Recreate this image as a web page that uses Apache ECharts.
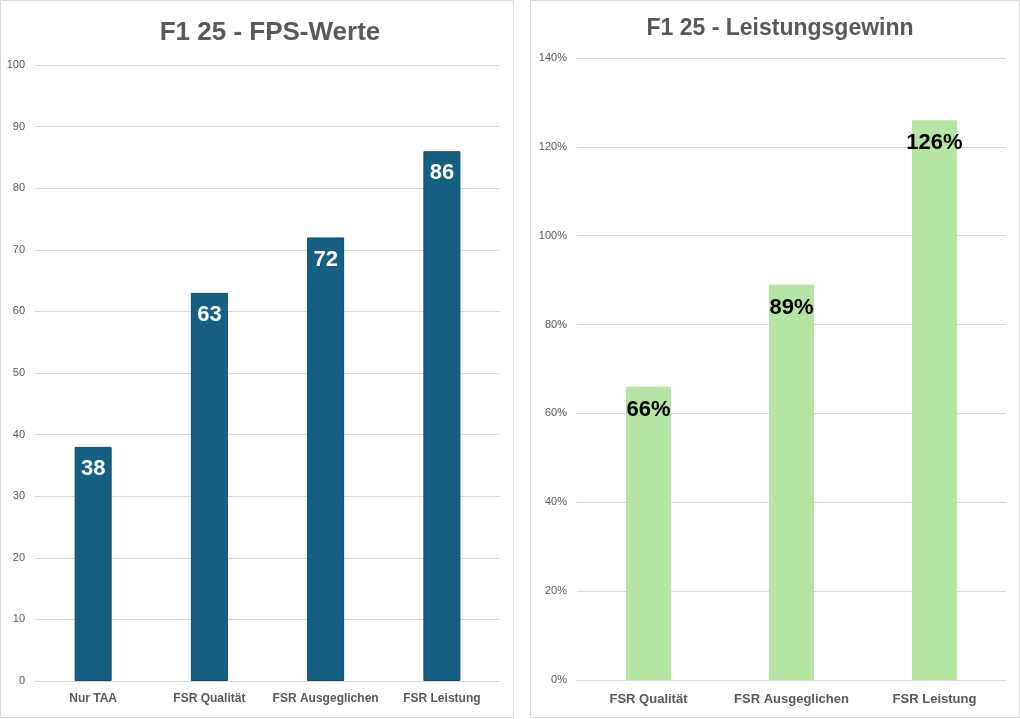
<!DOCTYPE html>
<html>
<head>
<meta charset="utf-8">
<script src="https://cdn.jsdelivr.net/npm/echarts@6/dist/echarts.min.js"></script>
<style>
  html, body { margin: 0; padding: 0; background: #fff; }
  #chart { width: 1020px; height: 719px; }
</style>
</head>
<body>
<div id="chart"></div>
<script>
const fpsCategories = ['Nur TAA', 'FSR Qualität', 'FSR Ausgeglichen', 'FSR Leistung'];
const fpsValues = [38, 63, 72, 86];
const gainCategories = ['FSR Qualität', 'FSR Ausgeglichen', 'FSR Leistung'];
const gainValues = [66, 89, 126];

const font = '"Liberation Sans Narrow", "Liberation Sans", Arial, sans-serif';
const grey = '#595959';

const chart = echarts.init(document.getElementById('chart'));
const option = {
  backgroundColor: '#fff',
  textStyle: { fontFamily: font },
  graphic: [
    { type: 'rect', shape: { x: 0.5, y: 0.5, width: 513, height: 717 }, style: { fill: 'none', stroke: '#d9d9d9', lineWidth: 1 } },
    { type: 'rect', shape: { x: 530.5, y: 0.5, width: 489, height: 717 }, style: { fill: 'none', stroke: '#d9d9d9', lineWidth: 1 } }
  ],
  title: [
    { text: 'F1 25 - FPS-Werte', left: 265, top: 15, textAlign: 'center',
      textStyle: { fontSize: 26, fontWeight: 'bold', color: grey, fontFamily: font } },
    { text: 'F1 25 - Leistungsgewinn', left: 775, top: 12, textAlign: 'center',
      textStyle: { fontSize: 23, fontWeight: 'bold', color: grey, fontFamily: font } }
  ],
  grid: [
    { left: 35, right: 520, top: 65, bottom: 38 },
    { left: 577, right: 14, top: 58, bottom: 39 }
  ],
  xAxis: [
    { type: 'category', gridIndex: 0, data: fpsCategories,
      axisLine: { lineStyle: { color: '#d9d9d9' } }, axisTick: { show: false },
      axisLabel: { interval: 0, color: grey, fontWeight: 'bold', fontSize: 12, margin: 12 } },
    { type: 'category', gridIndex: 1, data: gainCategories,
      axisLine: { lineStyle: { color: '#d9d9d9' } }, axisTick: { show: false },
      axisLabel: { interval: 0, color: grey, fontWeight: 'bold', fontSize: 13, margin: 13 } }
  ],
  yAxis: [
    { type: 'value', gridIndex: 0, min: 0, max: 100, interval: 10,
      axisLabel: { color: grey, fontSize: 11, margin: 10 },
      splitLine: { lineStyle: { color: '#d9d9d9' } } },
    { type: 'value', gridIndex: 1, min: 0, max: 140, interval: 20,
      axisLabel: { color: grey, fontSize: 11, margin: 10, formatter: '{value}%' },
      splitLine: { lineStyle: { color: '#d9d9d9' } } }
  ],
  series: [
    { type: 'bar', xAxisIndex: 0, yAxisIndex: 0, data: fpsValues, barWidth: 37,
      itemStyle: { color: '#156082', borderColor: '#0f4a66', borderWidth: 1 },
      label: { show: true, position: 'insideTop', distance: 11, color: '#fff',
        fontSize: 22, fontWeight: 'bold', fontFamily: 'Liberation Sans, Arial, sans-serif' } },
    { type: 'bar', xAxisIndex: 1, yAxisIndex: 1, data: gainValues, barWidth: 45,
      itemStyle: { color: '#b4e5a2' },
      label: { show: true, position: 'insideTop', distance: 12, color: '#000',
        fontSize: 22, fontWeight: 'bold', formatter: '{c}%', fontFamily: 'Liberation Sans, Arial, sans-serif' } }
  ]
};
chart.setOption(option);
</script>
</body>
</html>
